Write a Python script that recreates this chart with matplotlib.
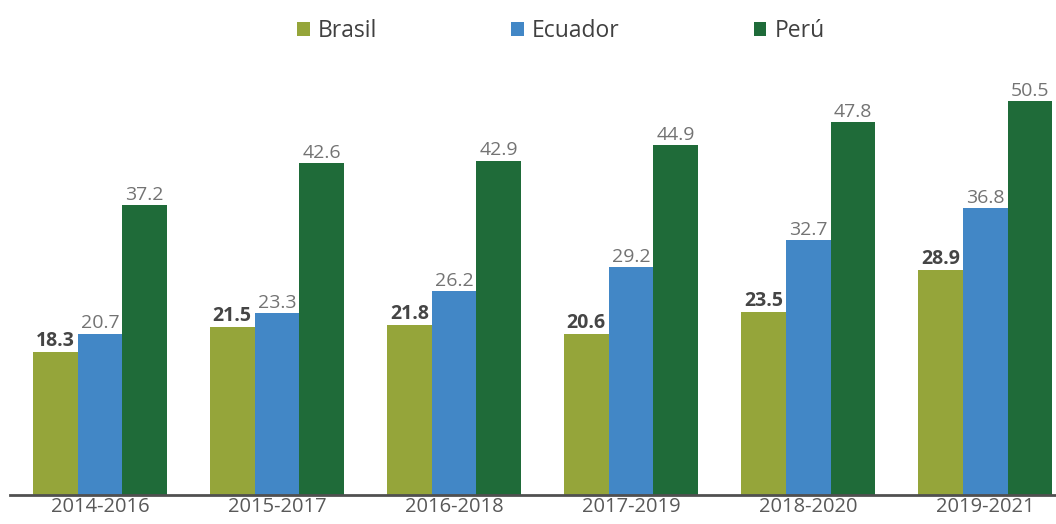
import matplotlib
matplotlib.use("Agg")
import matplotlib.pyplot as plt
import numpy as np

periods = ["2014-2016", "2015-2017", "2016-2018", "2017-2019", "2018-2020", "2019-2021"]
brasil = [18.3, 21.5, 21.8, 20.6, 23.5, 28.9]
ecuador = [20.7, 23.3, 26.2, 29.2, 32.7, 36.8]
peru = [37.2, 42.6, 42.9, 44.9, 47.8, 50.5]
series_names = ["Brasil", "Ecuador", "Perú"]
colors = ["#95A53A", "#4287C6", "#1F6B39"]

plt.rcParams['font.family'] = ['Open Sans', 'DejaVu Sans']

fig = plt.figure(figsize=(10.56, 5.24), dpi=100)
ax = fig.add_axes([10/1056, 29/524, 1046/1056, 435/524])

x = np.arange(len(periods))
w = 0.253
data = [brasil, ecuador, peru]
for i, (vals, name, c) in enumerate(zip(data, series_names, colors)):
    pos = x + (i - 1) * w
    bars = ax.bar(pos, vals, width=w, color=c, label=name, zorder=2)
    for b, v in zip(bars, vals):
        if i == 0:
            ax.text(b.get_x() + b.get_width()/2, v + 0.15, f"{v:.1f}", ha="center", va="bottom",
                    fontsize=14, fontweight="bold", color="#454545")
        else:
            ax.text(b.get_x() + b.get_width()/2, v + 0.15, f"{v:.1f}", ha="center", va="bottom",
                    fontsize=14, color="#737373")

ax.set_xlim(-0.508, 5.40)
ax.set_ylim(0, 55.8)
ax.set_xticks(x)
ax.set_xticklabels(periods, fontsize=14.5, color="#595959")
ax.tick_params(axis="x", length=0, pad=1.5)
ax.set_yticks([])
for s in ["top", "right", "left"]:
    ax.spines[s].set_visible(False)
ax.spines["bottom"].set_color("#505050")
ax.spines["bottom"].set_linewidth(2)

leg = fig.legend(loc="center", bbox_to_anchor=(561/1056, 1 - 31/524), ncol=3, frameon=False,
                 fontsize=16.5, handlelength=0.55, handleheight=0.55, handletextpad=0.35,
                 columnspacing=5.85)
for t in leg.get_texts():
    t.set_color("#404040")

fig.savefig("out.png", dpi=100)
